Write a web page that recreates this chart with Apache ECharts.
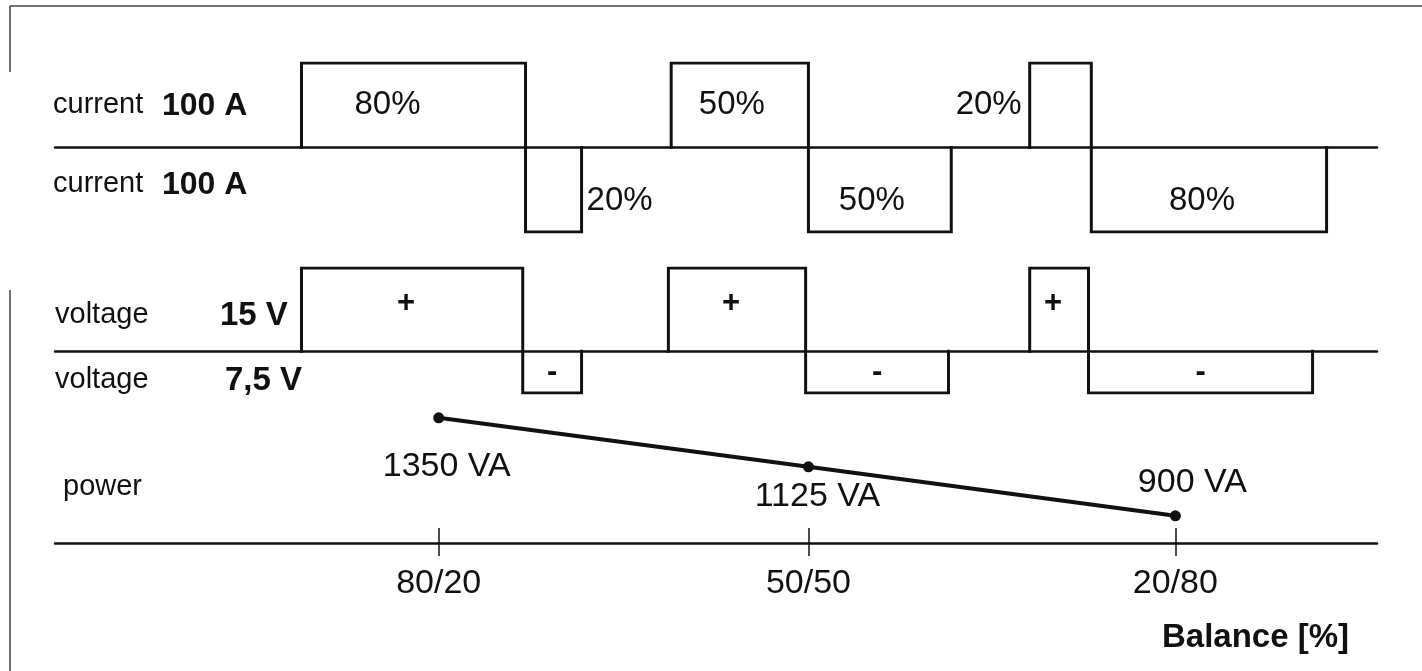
<!DOCTYPE html>
<html>
<head>
<meta charset="utf-8">
<title>Balance</title>
<script src="https://cdn.jsdelivr.net/npm/echarts@6/dist/echarts.min.js"></script>
<style>
  html, body { margin: 0; padding: 0; background: #fff; }
  #chart { width: 1422px; height: 671px; }
</style>
</head>
<body>
<div id="chart"></div>
<script>
// balance settings and the power they give
const balanceLabels = ['80/20', '50/50', '20/80'];
const balancePos = [49, 181, 312];          // position of each setting on the time axis
const powerVA = [1350, 1125, 900];

// one cycle per setting: [rise, polarity change, end], time in % of a period
const currentEdges = [[0, 80, 100], [132, 181, 232], [260, 282, 366]];
const voltageEdges = [[0, 79, 100], [131, 180, 231], [260, 281, 361]];
const currentLevels = [100, -100];   // A
const voltageLevels = [15, -7.5];    // V
const posShare = ['80%', '50%', '20%'];
const negShare = ['20%', '50%', '80%'];

const FONT = '"Liberation Sans", Arial, Helvetica, sans-serif';
const INK = '#111';
const X_MIN = -88, X_MAX = 384;

// one line series per cycle so the baseline between cycles stays the axis line
function pulseSeries(name, edges, levels, gi) {
  return edges.map(function (e, i) {
    return {
      name: name + ' ' + (i + 1), type: 'line', xAxisIndex: gi, yAxisIndex: gi,
      data: [[e[0], 0], [e[0], levels[0]], [e[1], levels[0]],
             [e[1], levels[1]], [e[2], levels[1]], [e[2], 0]],
      symbol: 'none', silent: true,
      lineStyle: { color: INK, width: 3, join: 'miter', cap: 'square' }
    };
  });
}

// % labels on the current pulses
let pctData = [];
currentEdges.forEach(function (e, i) {
  let wideUp = e[1] - e[0] > 30, wideDown = e[2] - e[1] > 30;
  let upShift = [-26, -8, 0][i], downShift = [0, -8, -7][i];
  pctData.push({
    value: wideUp ? [(e[0] + e[1]) / 2, currentLevels[0] / 2] : [e[0], currentLevels[0] / 2],
    label: { formatter: posShare[i], align: wideUp ? 'center' : 'right', offset: wideUp ? [upShift, 0] : [-8, 0] }
  });
  pctData.push({
    value: wideDown ? [(e[1] + e[2]) / 2, currentLevels[1] / 2] : [e[2], currentLevels[1] / 2],
    label: { formatter: negShare[i], align: wideDown ? 'center' : 'left', offset: wideDown ? [downShift, 11] : [5, 11] }
  });
});

// +/- signs on the voltage pulses
let signData = [];
voltageEdges.forEach(function (e) {
  signData.push({ value: [(e[0] + e[1]) / 2, voltageLevels[0] / 2], label: { formatter: '+', offset: [-6, -6] } });
  signData.push({ value: [(e[1] + e[2]) / 2, voltageLevels[1] / 2], label: { formatter: '-', offset: [0, 0] } });
});

const powerLabelOffsets = [[8, 49], [9, 30], [17, -33]];

let chart = echarts.init(document.getElementById('chart'));

const gridBase = { left: 55, width: 1322 };
const plainLabel = { color: INK, fontFamily: FONT, opacity: 1, textBorderWidth: 0, textBorderColor: 'transparent', textShadowBlur: 0 };

function hiddenX(gi) {
  return {
    type: 'value', gridIndex: gi, min: X_MIN, max: X_MAX,
    axisLine: { onZero: true, lineStyle: { color: INK, width: 2.5 } },
    axisTick: { show: false }, axisLabel: { show: false }, splitLine: { show: false }
  };
}
function hiddenY(gi, min, max) {
  return { type: 'value', gridIndex: gi, min: min, max: max, show: false, splitLine: { show: false } };
}

let option = {
  backgroundColor: '#fff',
  animation: false,
  grid: [
    Object.assign({ top: 63, height: 169 }, gridBase),
    Object.assign({ top: 268, height: 125 }, gridBase),
    Object.assign({ top: 396, height: 147 }, gridBase)
  ],
  xAxis: [
    hiddenX(0),
    hiddenX(1),
    {
      type: 'value', gridIndex: 2, min: X_MIN, max: X_MAX, position: 'bottom',
      axisLine: { onZero: false, lineStyle: { color: INK, width: 2.5 } },
      axisTick: { customValues: balancePos, length: 13, lineStyle: { color: INK, width: 1.5 } },
      axisLabel: {
        customValues: balancePos, margin: 24, color: INK, fontFamily: FONT, fontSize: 34,
        formatter: function (v) { return balanceLabels[balancePos.indexOf(v)]; }
      },
      splitLine: { show: false }
    },
    {
      type: 'value', gridIndex: 2, min: X_MIN, max: X_MAX, position: 'bottom',
      axisLine: { show: false, onZero: false },
      axisTick: { inside: true, customValues: balancePos, length: 15, lineStyle: { color: INK, width: 1.5 } },
      axisLabel: { show: false }, splitLine: { show: false }
    }
  ],
  yAxis: [
    hiddenY(0, currentLevels[1], currentLevels[0]),
    hiddenY(1, voltageLevels[1], voltageLevels[0]),
    hiddenY(2, 775, 1450)
  ],
  series: pulseSeries('current', currentEdges, currentLevels, 0)
    .concat(pulseSeries('voltage', voltageEdges, voltageLevels, 1))
    .concat([
    {
      name: 'share', type: 'scatter', xAxisIndex: 0, yAxisIndex: 0, symbolSize: 0, silent: true,
      itemStyle: { color: INK, opacity: 1 },
      data: pctData,
      label: Object.assign({ show: true, position: 'inside', fontSize: 33, verticalAlign: 'middle' }, plainLabel)
    },
    {
      name: 'sign', type: 'scatter', xAxisIndex: 1, yAxisIndex: 1, symbolSize: 0, silent: true,
      itemStyle: { color: INK, opacity: 1 },
      data: signData,
      label: Object.assign({ show: true, position: 'inside', fontSize: 31, fontWeight: 'bold', verticalAlign: 'middle' }, plainLabel)
    },
    {
      name: 'power', type: 'line', xAxisIndex: 2, yAxisIndex: 2,
      data: balancePos.map(function (x, i) {
        return { value: [x, powerVA[i]], label: { offset: powerLabelOffsets[i] } };
      }),
      symbol: 'circle', symbolSize: 11, silent: true,
      itemStyle: { color: INK },
      lineStyle: { color: INK, width: 4 },
      label: Object.assign({
        show: true, position: 'inside', fontSize: 34,
        formatter: function (p) { return p.value[1] + ' VA'; }
      }, plainLabel)
    }
  ]),
  graphic: [
    { type: 'line', shape: { x1: 10, y1: 6, x2: 1422, y2: 6 }, style: { stroke: '#444', lineWidth: 1.5 } },
    { type: 'line', shape: { x1: 10, y1: 6, x2: 10, y2: 72 }, style: { stroke: '#444', lineWidth: 1.5 } },
    { type: 'line', shape: { x1: 10, y1: 290, x2: 10, y2: 671 }, style: { stroke: '#444', lineWidth: 1.5 } },
    { type: 'text', x: 53, y: 105, style: { text: 'current', font: '29px ' + FONT, fill: INK, verticalAlign: 'middle' } },
    { type: 'text', x: 162, y: 106, style: { text: '100 A', font: 'bold 32px ' + FONT, fill: INK, verticalAlign: 'middle' } },
    { type: 'text', x: 53, y: 184, style: { text: 'current', font: '29px ' + FONT, fill: INK, verticalAlign: 'middle' } },
    { type: 'text', x: 162, y: 185, style: { text: '100 A', font: 'bold 32px ' + FONT, fill: INK, verticalAlign: 'middle' } },
    { type: 'text', x: 55, y: 315, style: { text: 'voltage', font: '29px ' + FONT, fill: INK, verticalAlign: 'middle' } },
    { type: 'text', x: 220, y: 316, style: { text: '15 V', font: 'bold 33px ' + FONT, fill: INK, verticalAlign: 'middle' } },
    { type: 'text', x: 55, y: 380, style: { text: 'voltage', font: '29px ' + FONT, fill: INK, verticalAlign: 'middle' } },
    { type: 'text', x: 225, y: 381, style: { text: '7,5 V', font: 'bold 33px ' + FONT, fill: INK, verticalAlign: 'middle' } },
    { type: 'text', x: 63, y: 487, style: { text: 'power', font: '29px ' + FONT, fill: INK, verticalAlign: 'middle' } },
    { type: 'text', x: 1162, y: 638, style: { text: 'Balance [%]', font: 'bold 33px ' + FONT, fill: INK, verticalAlign: 'middle' } }
  ]
};
chart.setOption(option);
</script>
</body>
</html>
